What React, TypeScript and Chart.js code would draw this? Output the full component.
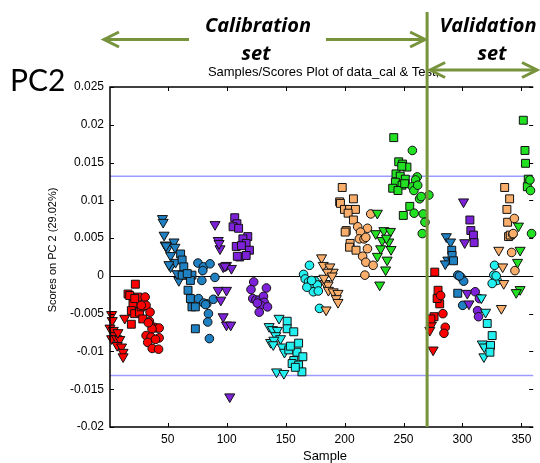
import React, { useEffect, useRef } from 'react';
import { Chart, registerables } from 'chart.js';
Chart.register(...registerables);

// ---------- axis / reference data ----------
const xTickValues = [50, 100, 150, 200, 250, 300, 350];
const yTickValues = [0.025, 0.02, 0.015, 0.01, 0.005, 0, -0.005, -0.01, -0.015, -0.02];
const yTickLabels = ['0.025', '0.02', '0.015', '0.01', '0.005', '0', '-0.005', '-0.01', '-0.015', '-0.02'];
const xMin = 1;
const xMax = 360;
const yMin = -0.02;
const yMax = 0.025;
const splitSample = 270;
const limitUpper = 0.0132;
const limitLower = -0.0132;

// ---------- series (sample index, score on PC2) ----------
const redTriX = [2.4, 2.9, 1, 3.8, 5.2, 2.4, 6.6, 9.3, 7.1, 10.8, 12.1, 13.5, 12.1, 7.7, 273.7, 272.3, 275.1];
const redTriY = [-0.0051, -0.0059, -0.0069, -0.0072, -0.0079, -0.0083, -0.0083, -0.0084, -0.0092, -0.0094, -0.0101, -0.0056, -0.0107, -0.0075, -0.0065, -0.0072, -0.0098];
const redSqX = [22.5, 16.3, 17.7, 24.6, 20.5, 19.1, 21.9, 26, 28.8, 19.1, 27.5, 22, 276.5, 279.3, 280.7, 278.5, 275.9, 273.2];
const redSqY = [-0.0011, -0.0024, -0.0026, -0.0028, -0.0037, -0.0046, -0.005, -0.0048, -0.0057, -0.0064, -0.0041, -0.003, 0.0005, -0.0019, -0.0037, -0.003, -0.0054, -0.0057];
const redCirX = [30.8, 31.6, 35, 34.4, 38.5, 40.5, 42.7, 36.6, 31.6, 35.8, 42.7, 33, 39.6, 36.8, 42.2, 27.5, 33.5, 281.5, 283.4, 285.4, 284.3];
const redCirY = [-0.0028, -0.0039, -0.0048, -0.006, -0.0068, -0.0069, -0.0069, -0.007, -0.0079, -0.0081, -0.0082, -0.0088, -0.0084, -0.0096, -0.0097, -0.0039, -0.0062, -0.0026, -0.005, -0.0068, -0.0076];

const blueTriX = [45.5, 46.1, 46.9, 47.8, 49.7, 55.3, 56.1, 52.4, 52.4, 56.6, 59.4, 58, 51, 48.5, 286.3, 289.9, 287.6, 285.4];
const blueTriY = [0.0076, 0.0071, 0.0054, 0.0041, 0.0036, 0.0045, 0.0038, 0.0027, 0.0012, 0.0018, -0.0006, 0.0003, 0.0015, 0.004, 0.0052, 0.0045, 0.0021, 0.0016];
const blueSqX = [60.9, 62.2, 63.6, 65, 70.5, 69.2, 67.2, 69.2, 70.5, 73.4, 73.4, 62.2, 66.5, 290.9, 291.2, 292.4, 296];
const blueSqY = [0.0029, 0.0021, 0.0012, 0.0001, 0.0001, -0.0006, -0.0019, -0.003, -0.0041, -0.0041, -0.007, 0.0001, 0.0003, 0.0034, 0.0027, 0.002, -0.0023];
const blueCirX = [75.6, 80.3, 85.9, 78.9, 90, 76.1, 83.1, 88.7, 84.5, 83.9, 85.3, 79.7, 80.5, 82, 296, 298.8, 301, 300.2, 297.5];
const blueCirY = [0.0017, 0.0012, 0.0016, -0.0006, -0.0002, -0.003, -0.0037, -0.0031, -0.005, -0.0061, -0.0083, 0.0007, -0.0036, -0.0038, 0.0001, -0.0002, -0.0007, -0.0039, 0];

const purpleTriX = [90.1, 92.8, 94.3, 97, 99.8, 104, 92.8, 99.8, 95, 97, 99.8, 103.4, 102.6, 93.5, 98.5, 300.9, 301.9, 304.1, 305.5];
const purpleTriY = [0.0068, 0.0047, 0.0036, 0.0012, 0.0014, 0.001, -0.0019, -0.0019, -0.0032, -0.0054, -0.0065, -0.0065, -0.016, 0.0043, 0.0013, 0.0098, 0.0044, -0.0023, -0.0037];
const purpleSqX = [106.8, 108.7, 105.4, 110.1, 117.9, 113.7, 108.1, 116.5, 119.3, 111, 116.5, 112.5, 109, 306.3, 307.1, 309.3, 309.9];
const purpleSqY = [0.0077, 0.0069, 0.0065, 0.0063, 0.0052, 0.0049, 0.0039, 0.0043, 0.0034, 0.0025, 0.0027, 0.004, 0.0026, 0.0074, 0.006, 0.0054, 0.0044];
const purpleCirX = [122.9, 133.7, 120.6, 122.1, 124.8, 127.6, 131.2, 131.8, 129, 134.6, 127.6, 126, 310.8, 314.4, 312.8, 313.6];
const purpleCirY = [-0.0008, -0.0016, -0.0018, -0.003, -0.0032, -0.0032, -0.0027, -0.0035, -0.0039, -0.0041, -0.0048, -0.0036, -0.0021, -0.003, -0.0046, -0.0054];

const cyanTriX = [144.4, 136, 138.8, 143, 141.6, 145.7, 137.3, 140, 147.1, 149, 142.3, 148.5, 139.5, 316, 319.6, 316.8, 318.2, 318.5];
const cyanTriY = [-0.0056, -0.0067, -0.0071, -0.0072, -0.0079, -0.0083, -0.0088, -0.0085, -0.0094, -0.0101, -0.0127, -0.0129, -0.0091, -0.0029, -0.0048, -0.009, -0.0107, -0.0094];
const cyanSqX = [151.3, 151.3, 156.9, 161, 152.7, 159.6, 164.6, 156.9, 155.5, 161, 163.8, 158.2, 154, 321, 325.2, 323.8, 323.3];
const cyanSqY = [-0.006, -0.007, -0.0074, -0.0089, -0.0098, -0.0101, -0.0107, -0.0112, -0.0116, -0.0118, -0.0127, -0.0121, -0.0093, -0.0063, -0.0079, -0.0092, -0.0101];
const cyanCirX = [170.2, 165.2, 166.6, 169.4, 172.1, 174.9, 176.9, 173.5, 168, 177.7, 178.7, 172, 327.2, 326.6, 329.4, 325.2, 328.6];
const cyanCirY = [0.0014, 0.0002, -0.0004, -0.0008, -0.001, -0.0007, -0.0012, -0.0021, -0.0015, -0.002, -0.0043, -0.0006, 0.0014, 0.0001, -0.0006, -0.001, 0];

const orangeTriX = [180.5, 181.9, 187.5, 190.3, 185.5, 183.5, 186, 186.3, 190.3, 194.4, 193, 194.4, 184.3, 182.5, 189.5, 330.8, 334.1, 335, 333];
const orangeTriY = [0.0024, 0.0014, 0.0012, 0.0005, 0.0005, -0.001, -0.0012, -0.0019, -0.0021, -0.0023, -0.003, -0.0035, -0.0045, -0.0003, 0, 0.0034, 0.0012, -0.001, -0.0043];
const orangeSqX = [198, 207.5, 195.8, 196.5, 199.9, 204.2, 209.2, 203, 207.5, 201.4, 200.5, 204.7, 204.2, 209.7, 335.8, 340, 337.7, 338.3, 339.1, 340.5];
const orangeSqY = [0.0117, 0.0102, 0.0098, 0.0096, 0.0088, 0.0088, 0.0088, 0.0083, 0.0074, 0.006, 0.0058, 0.0043, 0.0038, 0.0034, 0.0117, 0.0102, 0.0088, 0.0071, 0.0052, 0.0054];
const orangeCirX = [222.2, 211.1, 219.4, 213.5, 212.5, 216.5, 218, 219.4, 215.3, 218, 224.2, 217.2, 344, 342.6, 341.7, 344.5, 343];
const orangeCirY = [0.0082, 0.0065, 0.0063, 0.0058, 0.0049, 0.0049, 0.0051, 0.0036, 0.0026, 0.0018, 0.0014, 0.0001, 0.0076, 0.0055, 0.0031, 0.0007, 0.0056];

const greenTriX = [227.8, 226.4, 233.3, 238.9, 231.9, 237.5, 230.6, 239.4, 227.8, 236.1, 234.8, 229.8, 235.5, 347.5, 348.9, 346.7, 348.9, 345.6];
const greenTriY = [0.0083, 0.0056, 0.006, 0.0059, 0.0047, 0.0045, 0.0036, 0.0035, 0.0026, 0.0021, 0.0008, -0.0012, 0.005, 0.0066, 0.0034, 0.0018, -0.0018, -0.0022];
const greenSqX = [241.7, 245.9, 249.2, 252.9, 243.6, 247.2, 251.5, 243.1, 248.7, 240.8, 245.3, 251, 255.3, 249.8, 248.5, 351.6, 353, 353.5, 355.8, 355];
const greenSqY = [0.0183, 0.0151, 0.0148, 0.0144, 0.0135, 0.0132, 0.0128, 0.0124, 0.012, 0.0116, 0.0113, 0.0122, 0.0092, 0.008, 0.0145, 0.0206, 0.0166, 0.0149, 0.0128, 0.0118];
const greenCirX = [257.5, 261.6, 260.2, 257.5, 258.8, 263.6, 271.5, 265, 259, 266.7, 268.2, 265.9, 262, 357.2, 357.7, 358.6];
const greenCirY = [0.0166, 0.0131, 0.0127, 0.0118, 0.0113, 0.0102, 0.0107, 0.0105, 0.0083, 0.0082, 0.0071, 0.0056, 0.012, 0.0127, 0.0113, 0.0056];

const RED = '#ff0000';
const BLUE = '#1f80c2';
const PURPLE = '#7d22d8';
const CYAN = '#22f0f0';
const ORANGE = '#f9ae6c';
const GREEN = '#22e022';
const OLIVE = '#77933c';

const groups = [
  { label: 'red tri', xs: redTriX, ys: redTriY, color: RED, shape: 'tri' },
  { label: 'red sq', xs: redSqX, ys: redSqY, color: RED, shape: 'sq' },
  { label: 'red cir', xs: redCirX, ys: redCirY, color: RED, shape: 'cir' },
  { label: 'blue tri', xs: blueTriX, ys: blueTriY, color: BLUE, shape: 'tri' },
  { label: 'blue sq', xs: blueSqX, ys: blueSqY, color: BLUE, shape: 'sq' },
  { label: 'blue cir', xs: blueCirX, ys: blueCirY, color: BLUE, shape: 'cir' },
  { label: 'purple tri', xs: purpleTriX, ys: purpleTriY, color: PURPLE, shape: 'tri' },
  { label: 'purple sq', xs: purpleSqX, ys: purpleSqY, color: PURPLE, shape: 'sq' },
  { label: 'purple cir', xs: purpleCirX, ys: purpleCirY, color: PURPLE, shape: 'cir' },
  { label: 'cyan tri', xs: cyanTriX, ys: cyanTriY, color: CYAN, shape: 'tri' },
  { label: 'cyan sq', xs: cyanSqX, ys: cyanSqY, color: CYAN, shape: 'sq' },
  { label: 'cyan cir', xs: cyanCirX, ys: cyanCirY, color: CYAN, shape: 'cir' },
  { label: 'orange tri', xs: orangeTriX, ys: orangeTriY, color: ORANGE, shape: 'tri' },
  { label: 'orange sq', xs: orangeSqX, ys: orangeSqY, color: ORANGE, shape: 'sq' },
  { label: 'orange cir', xs: orangeCirX, ys: orangeCirY, color: ORANGE, shape: 'cir' },
  { label: 'green tri', xs: greenTriX, ys: greenTriY, color: GREEN, shape: 'tri' },
  { label: 'green sq', xs: greenSqX, ys: greenSqY, color: GREEN, shape: 'sq' },
  { label: 'green cir', xs: greenCirX, ys: greenCirY, color: GREEN, shape: 'cir' },
];

const SANS = '"Liberation Sans", Arial, sans-serif';
const HUMAN = 'Lato, "Open Sans", sans-serif';
const BOLDIT = '"Open Sans", Lato, sans-serif';

function arrowHead(ctx: CanvasRenderingContext2D, x: number, y: number, dir: number) {
  ctx.beginPath();
  ctx.moveTo(x - dir * 15, y - 7.5);
  ctx.lineTo(x, y);
  ctx.lineTo(x - dir * 15, y + 7.5);
  ctx.stroke();
}

const decorPlugin = {
  id: 'decor',
  beforeDatasetsDraw(chart: any) {
    const ctx = chart.ctx as CanvasRenderingContext2D;
    const { left, right } = chart.chartArea;
    const ys = chart.scales.y;
    ctx.save();
    ctx.strokeStyle = '#000';
    ctx.lineWidth = 1;
    const y0 = Math.round(ys.getPixelForValue(0)) + 0.5;
    ctx.beginPath();
    ctx.moveTo(left, y0);
    ctx.lineTo(right, y0);
    ctx.stroke();
    ctx.strokeStyle = '#9a9aff';
    ctx.lineWidth = 1.5;
    [limitUpper, limitLower].forEach((v) => {
      const yy = ys.getPixelForValue(v);
      ctx.beginPath();
      ctx.moveTo(left, yy);
      ctx.lineTo(right, yy);
      ctx.stroke();
    });
    ctx.restore();
  },
  afterDraw(chart: any) {
    const ctx = chart.ctx as CanvasRenderingContext2D;
    const { left, right, top, bottom } = chart.chartArea;
    const xs = chart.scales.x;
    const ys = chart.scales.y;
    ctx.save();
    ctx.strokeStyle = '#000';
    ctx.lineWidth = 1.5;
    ctx.beginPath();
    ctx.moveTo(right, top);
    ctx.lineTo(left, top);
    ctx.lineTo(left, bottom);
    ctx.lineTo(right, bottom);
    ctx.stroke();
    ctx.lineWidth = 1;
    ctx.beginPath();
    xTickValues.forEach((v) => {
      const px = Math.round(xs.getPixelForValue(v)) + 0.5;
      ctx.moveTo(px, bottom);
      ctx.lineTo(px, bottom - 4);
      ctx.moveTo(px, top);
      ctx.lineTo(px, top + 4);
    });
    yTickValues.forEach((v) => {
      const py = Math.round(ys.getPixelForValue(v)) + 0.5;
      ctx.moveTo(left, py);
      ctx.lineTo(left + 4, py);
      ctx.moveTo(right, py);
      ctx.lineTo(right - 4, py);
    });
    ctx.stroke();

    ctx.fillStyle = '#000';
    ctx.font = `13px ${SANS}`;
    ctx.textAlign = 'center';
    ctx.textBaseline = 'alphabetic';
    ctx.fillText('Sample', 325, 460);
    ctx.fillText('Samples/Scores Plot of data_cal & Test,', 323.5, 76);
    ctx.save();
    ctx.translate(53, 250);
    ctx.rotate(-Math.PI / 2);
    ctx.font = `11px ${SANS}`;
    ctx.textBaseline = 'middle';
    ctx.fillText('Scores on PC 2 (29.02%)', 0, 0);
    ctx.restore();

    ctx.font = `30px ${HUMAN}`;
    ctx.textAlign = 'left';
    ctx.fillText('PC2', 10, 91);

    ctx.font = `italic bold 20px ${BOLDIT}`;
    ctx.textAlign = 'center';
    ctx.fillText('Calibration', 258, 32);
    ctx.fillText('set', 256, 60);
    ctx.fillText('Validation', 488, 32);
    ctx.fillText('set', 492, 60);

    const sx = xs.getPixelForValue(splitSample);
    ctx.strokeStyle = OLIVE;
    ctx.lineWidth = 3;
    ctx.beginPath();
    ctx.moveTo(sx, 12);
    ctx.lineTo(sx, bottom);
    ctx.stroke();

    ctx.lineWidth = 3;
    ctx.beginPath();
    ctx.moveTo(189, 39.5);
    ctx.lineTo(105, 39.5);
    ctx.stroke();
    arrowHead(ctx, 104, 39.5, -1);
    ctx.beginPath();
    ctx.moveTo(326, 39.5);
    ctx.lineTo(sx - 3, 39.5);
    ctx.stroke();
    arrowHead(ctx, sx - 2, 39.5, 1);
    ctx.beginPath();
    ctx.moveTo(sx + 4, 70);
    ctx.lineTo(536, 70);
    ctx.stroke();
    arrowHead(ctx, sx + 3, 70, -1);
    arrowHead(ctx, 537, 70, 1);
    ctx.restore();
  },
};

export default function App() {
  const ref = useRef<HTMLCanvasElement | null>(null);
  useEffect(() => {
    if (!ref.current) return;
    const datasets = groups.map((g, i) => ({
      label: g.label,
      data: g.xs.map((x, k) => ({ x, y: g.ys[k] })),
      backgroundColor: g.color,
      borderColor: '#111',
      borderWidth: 1,
      pointStyle: g.shape === 'tri' ? 'triangle' : g.shape === 'sq' ? 'rect' : 'circle',
      rotation: g.shape === 'tri' ? 180 : 0,
      pointRadius: g.shape === 'cir' ? 4.3 : g.shape === 'sq' ? 5.6 : 5.8,
      pointHoverRadius: g.shape === 'cir' ? 4.3 : g.shape === 'sq' ? 5.6 : 5.8,
      order: -i,
      clip: false as any,
    }));
    const chart = new Chart(ref.current, {
      type: 'scatter',
      data: { datasets },
      options: {
        animation: false,
        responsive: false,
        maintainAspectRatio: false,
        layout: { padding: { top: 87, left: 0, right: 0, bottom: 0 } },
        plugins: { legend: { display: false }, tooltip: { enabled: false }, title: { display: false } },
        scales: {
          x: {
            type: 'linear',
            min: xMin,
            max: xMax,
            grid: { display: false, drawTicks: false },
            border: { display: false },
            afterBuildTicks: (s: any) => {
              s.ticks = xTickValues.map((v) => ({ value: v }));
            },
            afterFit: (s: any) => {
              s.height = 36;
            },
            ticks: {
              autoSkip: false,
              maxRotation: 0,
              padding: 5,
              color: '#000',
              font: { family: SANS, size: 12 },
              callback: (v: any) => String(v),
            },
          },
          y: {
            type: 'linear',
            min: yMin,
            max: yMax,
            grid: { display: false, drawTicks: false },
            border: { display: false },
            afterBuildTicks: (s: any) => {
              s.ticks = yTickValues.map((v) => ({ value: v }));
            },
            afterFit: (s: any) => {
              s.width = 110;
            },
            ticks: {
              autoSkip: false,
              padding: 6,
              color: '#000',
              font: { family: SANS, size: 12 },
              callback: (v: any) => {
                const i = yTickValues.findIndex((t) => Math.abs(t - v) < 1e-9);
                return i >= 0 ? yTickLabels[i] : '';
              },
            },
          },
        },
      },
      plugins: [decorPlugin],
    });
    return () => chart.destroy();
  }, []);
  return (
    <div style={{ position: 'absolute', left: 0, top: 0, width: 540, height: 463, background: '#fff' }}>
      <canvas ref={ref} width={540} height={463} style={{ display: 'block', width: 540, height: 463 }} />
    </div>
  );
}
